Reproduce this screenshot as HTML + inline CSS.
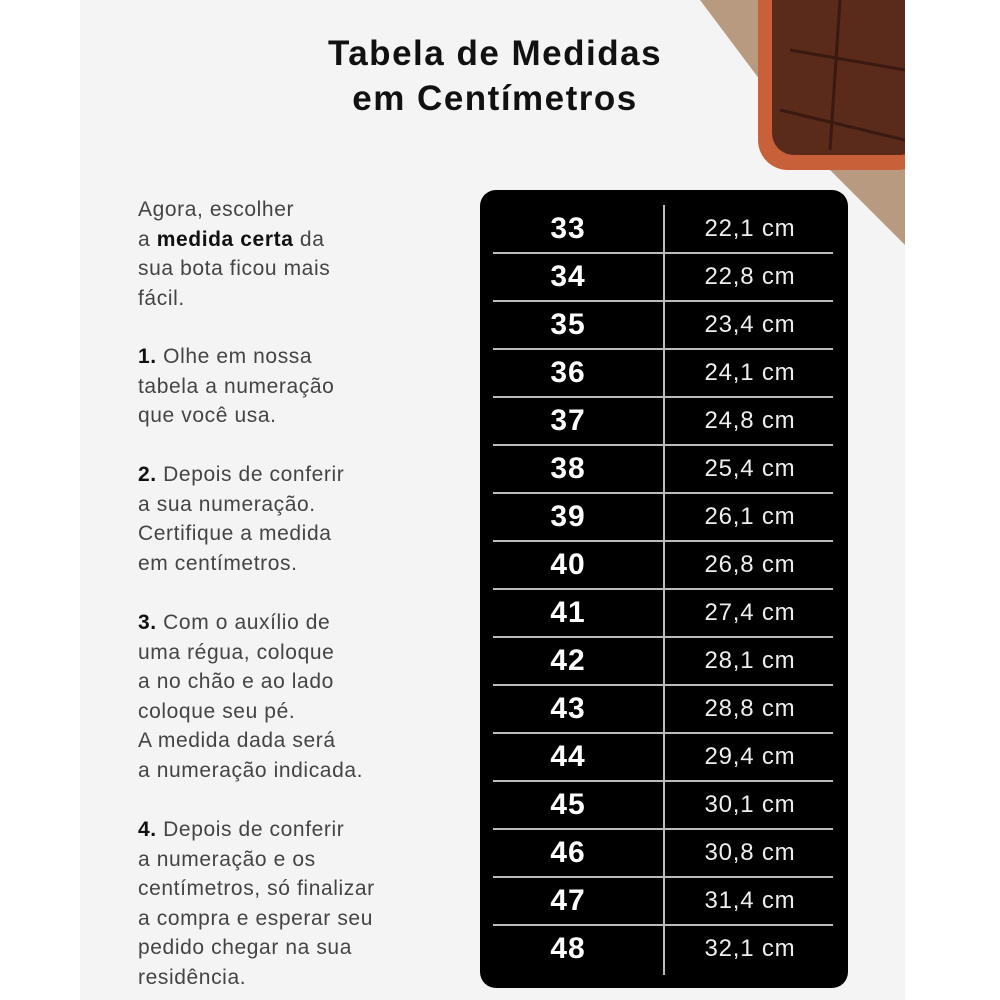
<!DOCTYPE html>
<html><head><meta charset="utf-8"><style>
body{margin:0;width:1000px;height:1000px;background:#fff;position:relative;overflow:hidden;font-family:"Liberation Sans",sans-serif}
.bg{position:absolute;left:80px;top:0;width:825px;height:1000px;background:#f4f4f4}
.t{position:absolute;left:0;width:990px;text-align:center;font-weight:bold;font-size:35px;letter-spacing:1.5px;color:#111}
.l{position:absolute;left:138px;font-size:21px;letter-spacing:0.6px;color:#444;white-space:nowrap;line-height:29.6px}
.l b{color:#111}
.tab{position:absolute;left:480px;top:190px;width:368px;height:798px;background:#000;border-radius:16px}
.r{position:absolute;left:480px;width:368px;height:48px;color:#eee}
.n{position:absolute;left:40px;width:96px;text-align:center;font-weight:bold;font-size:30px;letter-spacing:1px;line-height:48px;color:#fff}
.c{position:absolute;left:195px;width:150px;text-align:center;font-size:24px;letter-spacing:0.8px;line-height:48px}
.h{position:absolute;left:493px;width:340px;height:2px;background:#bbb}
</style></head><body>
<div class="bg"></div>
<svg style="position:absolute;left:0;top:0" width="905" height="260">
<polygon points="700,0 905,0 905,245 820,160" fill="#b79a80"/>
<rect x="758" y="-30" width="170" height="200" rx="30" fill="#c8603a"/>
<rect x="772" y="-20" width="150" height="175" rx="22" fill="#5a2a1a"/>
<g stroke="#3a1a10" stroke-width="3"><line x1="790" y1="50" x2="905" y2="70"/><line x1="780" y1="110" x2="905" y2="140"/><line x1="840" y1="0" x2="830" y2="150"/></g>
</svg>
<div class="t" style="top:34px">Tabela de Medidas</div>
<div class="t" style="top:79px">em Centímetros</div>
<div class="l" style="top:195px">Agora, escolher<br>a <b>medida certa</b> da<br>sua bota ficou mais<br>fácil.</div>
<div class="l" style="top:342px"><b>1.</b> Olhe em nossa<br>tabela a numeração<br>que você usa.</div>
<div class="l" style="top:460px"><b>2.</b> Depois de conferir<br>a sua numeração.<br>Certifique a medida<br>em centímetros.</div>
<div class="l" style="top:608px"><b>3.</b> Com o auxílio de<br>uma régua, coloque<br>a no chão e ao lado<br>coloque seu pé.<br>A medida dada será<br>a numeração indicada.</div>
<div class="l" style="top:815px"><b>4.</b> Depois de conferir<br>a numeração e os<br>centímetros, só finalizar<br>a compra e esperar seu<br>pedido chegar na sua<br>residência.</div>
<div class="tab"></div>
<div style="position:absolute;left:663px;top:205px;width:2px;height:770px;background:#bbb"></div>
<div class="r" style="top:205px"><div class="n">33</div><div class="c">22,1 cm</div></div>
<div class="r" style="top:253px"><div class="n">34</div><div class="c">22,8 cm</div></div>
<div class="r" style="top:301px"><div class="n">35</div><div class="c">23,4 cm</div></div>
<div class="r" style="top:349px"><div class="n">36</div><div class="c">24,1 cm</div></div>
<div class="r" style="top:397px"><div class="n">37</div><div class="c">24,8 cm</div></div>
<div class="r" style="top:445px"><div class="n">38</div><div class="c">25,4 cm</div></div>
<div class="r" style="top:493px"><div class="n">39</div><div class="c">26,1 cm</div></div>
<div class="r" style="top:541px"><div class="n">40</div><div class="c">26,8 cm</div></div>
<div class="r" style="top:589px"><div class="n">41</div><div class="c">27,4 cm</div></div>
<div class="r" style="top:637px"><div class="n">42</div><div class="c">28,1 cm</div></div>
<div class="r" style="top:685px"><div class="n">43</div><div class="c">28,8 cm</div></div>
<div class="r" style="top:733px"><div class="n">44</div><div class="c">29,4 cm</div></div>
<div class="r" style="top:781px"><div class="n">45</div><div class="c">30,1 cm</div></div>
<div class="r" style="top:829px"><div class="n">46</div><div class="c">30,8 cm</div></div>
<div class="r" style="top:877px"><div class="n">47</div><div class="c">31,4 cm</div></div>
<div class="r" style="top:925px"><div class="n">48</div><div class="c">32,1 cm</div></div>
<div class="h" style="top:252px"></div><div class="h" style="top:300px"></div><div class="h" style="top:348px"></div><div class="h" style="top:396px"></div><div class="h" style="top:444px"></div><div class="h" style="top:492px"></div><div class="h" style="top:540px"></div><div class="h" style="top:588px"></div><div class="h" style="top:636px"></div><div class="h" style="top:684px"></div><div class="h" style="top:732px"></div><div class="h" style="top:780px"></div><div class="h" style="top:828px"></div><div class="h" style="top:876px"></div><div class="h" style="top:924px"></div>
</body></html>
